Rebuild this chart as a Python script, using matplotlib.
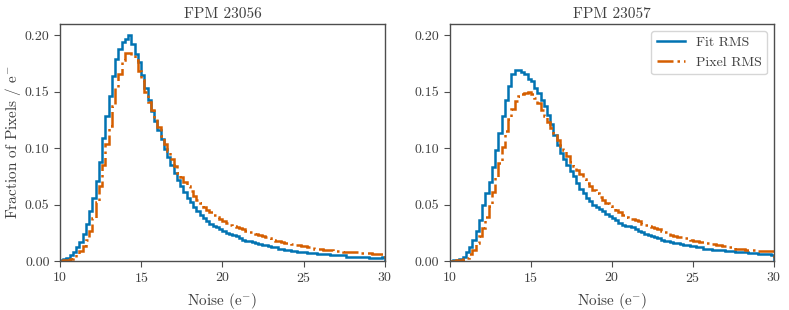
import numpy as np
from matplotlib import pyplot as plt

# histogram bin edges, 0.2 e- wide
bin_edges = np.round(np.arange(10.0, 30.0001, 0.2), 1)

titles = ["FPM 23056", "FPM 23057"]
series_labels = ["Fit RMS", "Pixel RMS"]

fpm56_fit = [
    0.001, 0.002, 0.003, 0.005, 0.008, 0.012, 0.017, 0.024, 0.033, 0.044,
    0.056, 0.071, 0.088, 0.109, 0.128, 0.146, 0.164, 0.179, 0.188, 0.194,
    0.197, 0.200, 0.192, 0.183, 0.176, 0.165, 0.153, 0.143, 0.133, 0.124,
    0.116, 0.108, 0.099, 0.092, 0.085, 0.078, 0.072, 0.066, 0.061, 0.056,
    0.052, 0.048, 0.044, 0.041, 0.038, 0.035, 0.033, 0.031, 0.030, 0.028,
    0.027, 0.025, 0.024, 0.023, 0.022, 0.020, 0.019, 0.018, 0.018, 0.017,
    0.016, 0.015, 0.014, 0.014, 0.013, 0.012, 0.012, 0.011, 0.011, 0.010,
    0.010, 0.009, 0.009, 0.008, 0.008, 0.008, 0.007, 0.007, 0.007, 0.006,
    0.006, 0.006, 0.006, 0.005, 0.005, 0.005, 0.005, 0.005, 0.004, 0.004,
    0.004, 0.004, 0.004, 0.004, 0.004, 0.003, 0.003, 0.003, 0.003, 0.004,
]
fpm56_pixel = [
    0.000, 0.001, 0.001, 0.002, 0.004, 0.006, 0.009, 0.013, 0.019, 0.027,
    0.038, 0.052, 0.066, 0.085, 0.104, 0.120, 0.137, 0.153, 0.166, 0.178,
    0.184, 0.184, 0.182, 0.178, 0.168, 0.160, 0.150, 0.141, 0.134, 0.126,
    0.119, 0.111, 0.104, 0.097, 0.090, 0.084, 0.078, 0.074, 0.070, 0.066,
    0.062, 0.058, 0.054, 0.051, 0.048, 0.045, 0.043, 0.041, 0.039, 0.037,
    0.035, 0.034, 0.032, 0.031, 0.030, 0.029, 0.028, 0.027, 0.026, 0.025,
    0.024, 0.023, 0.022, 0.021, 0.020, 0.019, 0.018, 0.018, 0.017, 0.016,
    0.016, 0.015, 0.014, 0.014, 0.013, 0.013, 0.012, 0.012, 0.011, 0.011,
    0.011, 0.010, 0.010, 0.010, 0.009, 0.009, 0.009, 0.008, 0.008, 0.008,
    0.008, 0.008, 0.007, 0.007, 0.007, 0.007, 0.006, 0.006, 0.006, 0.006,
]
fpm57_fit = [
    0.000, 0.001, 0.001, 0.002, 0.004, 0.008, 0.012, 0.019, 0.027, 0.036,
    0.050, 0.060, 0.070, 0.083, 0.098, 0.113, 0.128, 0.143, 0.155, 0.166,
    0.169, 0.169, 0.167, 0.166, 0.161, 0.159, 0.153, 0.149, 0.143, 0.137,
    0.129, 0.121, 0.112, 0.103, 0.096, 0.090, 0.085, 0.080, 0.075, 0.069,
    0.064, 0.060, 0.056, 0.053, 0.050, 0.048, 0.046, 0.044, 0.042, 0.040,
    0.038, 0.036, 0.034, 0.032, 0.031, 0.031, 0.030, 0.028, 0.027, 0.026,
    0.024, 0.023, 0.022, 0.021, 0.020, 0.019, 0.018, 0.018, 0.017, 0.016,
    0.016, 0.015, 0.014, 0.014, 0.013, 0.013, 0.012, 0.012, 0.011, 0.011,
    0.011, 0.010, 0.010, 0.010, 0.010, 0.009, 0.009, 0.009, 0.008, 0.008,
    0.008, 0.008, 0.007, 0.007, 0.007, 0.006, 0.006, 0.006, 0.006, 0.005,
]
fpm57_pixel = [
    0.000, 0.000, 0.001, 0.001, 0.002, 0.003, 0.006, 0.010, 0.016, 0.022,
    0.029, 0.039, 0.049, 0.061, 0.074, 0.087, 0.101, 0.115, 0.126, 0.135,
    0.142, 0.146, 0.148, 0.149, 0.150, 0.148, 0.144, 0.140, 0.134, 0.128,
    0.123, 0.118, 0.113, 0.107, 0.102, 0.098, 0.093, 0.088, 0.084, 0.081,
    0.077, 0.073, 0.069, 0.066, 0.063, 0.060, 0.057, 0.054, 0.051, 0.049,
    0.047, 0.045, 0.043, 0.041, 0.039, 0.038, 0.037, 0.036, 0.035, 0.033,
    0.032, 0.031, 0.030, 0.029, 0.028, 0.027, 0.026, 0.025, 0.023, 0.022,
    0.021, 0.021, 0.020, 0.020, 0.019, 0.018, 0.018, 0.017, 0.017, 0.016,
    0.015, 0.015, 0.014, 0.014, 0.013, 0.013, 0.012, 0.012, 0.011, 0.011,
    0.011, 0.010, 0.010, 0.010, 0.010, 0.009, 0.009, 0.009, 0.009, 0.009,
]

x_ticks = [10, 15, 20, 25, 30]
y_ticks = [0.00, 0.05, 0.10, 0.15, 0.20]

plt.rcParams["font.family"] = "serif"
plt.rcParams["font.serif"] = ["cmr10", "DejaVu Serif"]
plt.rcParams["mathtext.fontset"] = "cm"
plt.rcParams["axes.formatter.use_mathtext"] = True
plt.rcParams["axes.unicode_minus"] = False
plt.rcParams["text.color"] = "0.25"
plt.rcParams["axes.labelcolor"] = "0.25"
plt.rcParams["xtick.labelcolor"] = "0.25"
plt.rcParams["ytick.labelcolor"] = "0.25"

fig = plt.figure(figsize=(7.89, 3.10), dpi=100)
ax1 = fig.add_axes([0.076, 0.158, 0.412, 0.765])
ax2 = fig.add_axes([0.570, 0.158, 0.411, 0.765])

panels = [(ax1, fpm56_fit, fpm56_pixel), (ax2, fpm57_fit, fpm57_pixel)]
for i, (ax, fit, pix) in enumerate(panels):
    ax.stairs(fit, bin_edges, color="#0173b2", lw=1.8, label=series_labels[0])
    ax.stairs(pix, bin_edges, color="#d55e00", lw=1.8, ls="-.", label=series_labels[1])
    ax.set_xlim(10, 30)
    ax.set_ylim(0, 0.21)
    ax.set_xticks(x_ticks)
    ax.set_yticks(y_ticks)
    ax.set_yticklabels([f"{v:.2f}" for v in y_ticks])
    ax.set_title(titles[i], fontsize=11, pad=4)
    ax.set_xlabel(r"Noise (e$^{-}$)", fontsize=11)
    ax.tick_params(labelsize=10, direction="out", length=4, color="0.3")
    for s in ax.spines.values():
        s.set_color("0.3")
        s.set_linewidth(1.0)

ax1.set_ylabel(r"Fraction of Pixels / e$^{-}$", fontsize=11, labelpad=1)
ax2.legend(loc="upper right", fontsize=10, frameon=True, fancybox=True, edgecolor="0.8")

fig.savefig("out.png", dpi=100)
